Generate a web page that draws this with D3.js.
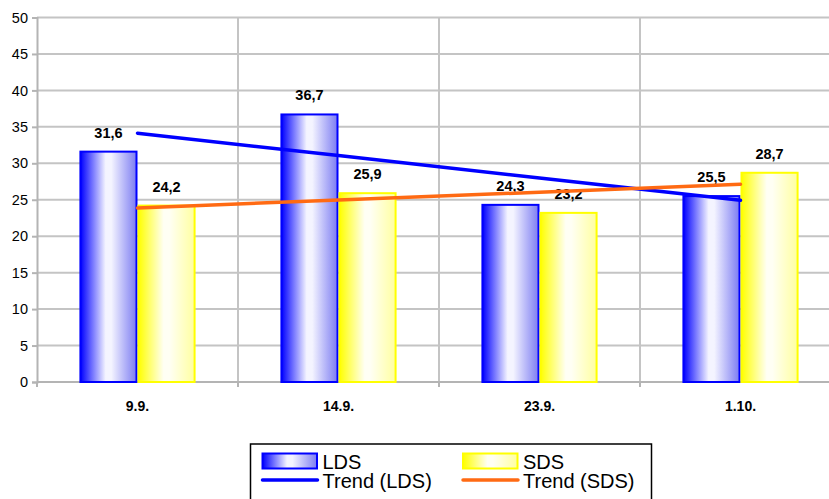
<!DOCTYPE html>
<html>
<head>
<meta charset="utf-8">
<script src="https://cdn.jsdelivr.net/npm/d3@7"></script>
<style>
  html, body { margin: 0; padding: 0; background: #fff; }
  svg { display: block; font-family: "Liberation Sans", Arial, sans-serif; }
</style>
</head>
<body>
<svg id="chart" width="829" height="499"></svg>
<script>
// Measurement dates and the two series
const categories = ["9.9.", "14.9.", "23.9.", "1.10."];
const ldsValues = [31.6, 36.7, 24.3, 25.5];
const sdsValues = [24.2, 25.9, 23.2, 28.7];
const yTicks = [0, 5, 10, 15, 20, 25, 30, 35, 40, 45, 50];
const seriesNames = ["LDS", "SDS"];
const trendNames = ["Trend (LDS)", "Trend (SDS)"];

const fmt = v => String(v).replace(".", ",");

const svg = d3.select("#chart");
const plot = { left: 37, right: 841, top: 17.5, bottom: 382 };

const x = d3.scaleBand().domain(categories).range([plot.left, plot.right]).paddingInner(0).paddingOuter(0);
const groupW = x.bandwidth() * 0.578;
const xs = d3.scaleBand().domain(seriesNames).range([0, groupW]);
const y = d3.scaleLinear().domain([0, 50]).range([plot.bottom, plot.top]);

// Gradients for the bars
const defs = svg.append("defs");
function grad(id, stops) {
  const g = defs.append("linearGradient").attr("id", id).attr("x1", "0%").attr("x2", "100%").attr("y1", "0%").attr("y2", "0%");
  stops.forEach(([o, c]) => g.append("stop").attr("offset", o).attr("stop-color", c));
}
grad("gLDS", [["0%", "#0000ff"], ["45%", "#f4f4ff"], ["55%", "#f4f4ff"], ["100%", "#7c7cf2"]]);
grad("gSDS", [["0%", "#ffff00"], ["45%", "#fffff4"], ["55%", "#fffff4"], ["100%", "#ffffa0"]]);

// Grid
svg.append("g").selectAll("line").data(yTicks).join("line")
  .attr("x1", plot.left).attr("x2", 829)
  .attr("y1", d => y(d)).attr("y2", d => y(d))
  .attr("stroke", "#c4c4c4").attr("stroke-width", 2);
svg.append("g").selectAll("line").data(categories.slice(1)).join("line")
  .attr("x1", d => x(d)).attr("x2", d => x(d))
  .attr("y1", plot.top).attr("y2", plot.bottom)
  .attr("stroke", "#c4c4c4").attr("stroke-width", 2);

// Y axis
const yAxis = svg.append("g").attr("transform", `translate(${plot.left},0)`)
  .call(d3.axisLeft(y).tickValues(yTicks).tickSize(5).tickPadding(4).tickFormat(d => d));
yAxis.select(".domain").attr("stroke", "#b4b4b4").attr("stroke-width", 2);
yAxis.selectAll(".tick line").attr("stroke", "#b4b4b4").attr("stroke-width", 2);
yAxis.selectAll(".tick text").attr("font-size", 14.5).attr("fill", "#000")
  .attr("font-family", "Liberation Sans, Arial, sans-serif");

// X axis
const xAxis = svg.append("g").attr("transform", `translate(0,${plot.bottom})`)
  .call(d3.axisBottom(x).tickSize(0).tickPadding(19));
xAxis.select(".domain").remove();
svg.append("line").attr("x1", plot.left).attr("x2", 829).attr("y1", plot.bottom).attr("y2", plot.bottom)
  .attr("stroke", "#b4b4b4").attr("stroke-width", 2);
svg.append("g").selectAll("line").data(categories).join("line")
  .attr("x1", d => x(d)).attr("x2", d => x(d)).attr("y1", plot.bottom).attr("y2", plot.bottom + 5)
  .attr("stroke", "#b4b4b4").attr("stroke-width", 2);
xAxis.selectAll(".tick text").attr("font-size", 14).attr("font-weight", "bold").attr("fill", "#000")
  .attr("font-family", "Liberation Sans, Arial, sans-serif");

// Bars
const rows = categories.map((c, i) => ({ c, LDS: ldsValues[i], SDS: sdsValues[i] }));
const groups = svg.append("g").selectAll("g").data(rows).join("g")
  .attr("transform", d => `translate(${x(d.c) + (x.bandwidth() - groupW) / 2},0)`);
const strokeCol = { LDS: "#0000ff", SDS: "#ffff00" };
groups.selectAll("rect").data(d => seriesNames.map(s => ({ s, v: d[s] }))).join("rect")
  .attr("x", d => xs(d.s) + 1).attr("width", xs.bandwidth() - 2)
  .attr("y", d => y(d.v)).attr("height", d => y(0) - y(d.v))
  .attr("fill", d => `url(#g${d.s})`)
  .attr("stroke", d => strokeCol[d.s]).attr("stroke-width", 2);

// Linear trend lines (least squares over category index)
function trend(vals) {
  const n = vals.length, xsI = d3.range(1, n + 1);
  const mx = d3.mean(xsI), my = d3.mean(vals);
  const b = d3.sum(xsI, (xi, i) => (xi - mx) * (vals[i] - my)) / d3.sum(xsI, xi => (xi - mx) ** 2);
  const a = my - b * mx;
  return xsI.map(xi => a + b * xi);
}
const cx = c => x(c) + x.bandwidth() / 2;
const line = d3.line().x((d, i) => cx(categories[i])).y(d => y(d));
const trends = [
  { vals: trend(ldsValues), color: "#0000ff" },
  { vals: trend(sdsValues), color: "#ff6a13" }
];
svg.append("g").selectAll("path").data(trends).join("path")
  .attr("d", d => line(d.vals)).attr("fill", "none")
  .attr("stroke", d => d.color).attr("stroke-width", 3.5).attr("stroke-linecap", "round");

// Value labels
groups.selectAll("text").data(d => seriesNames.map(s => ({ s, v: d[s] }))).join("text")
  .attr("x", d => xs(d.s) + xs.bandwidth() / 2)
  .attr("y", d => y(d.v) - 14)
  .attr("text-anchor", "middle")
  .attr("font-size", 14.5).attr("font-weight", "bold").attr("fill", "#000")
  .text(d => fmt(d.v));

// Legend
const lg = svg.append("g");
lg.append("rect").attr("x", 250.5).attr("y", 444).attr("width", 401).attr("height", 70)
  .attr("fill", "#fff").attr("stroke", "#000").attr("stroke-width", 1.5);
const legendCols = [262.5, 463];
seriesNames.forEach((s, i) => {
  const lx = legendCols[i];
  lg.append("rect").attr("x", lx).attr("y", 453.5).attr("width", 54.5).attr("height", 15)
    .attr("fill", `url(#g${s})`).attr("stroke", strokeCol[s]).attr("stroke-width", 2);
  lg.append("text").attr("x", lx + 60).attr("y", 469).attr("font-size", 20).attr("fill", "#000").text(s);
  lg.append("line").attr("x1", lx).attr("x2", lx + 55).attr("y1", 480).attr("y2", 480)
    .attr("stroke", trends[i].color).attr("stroke-width", 3.5).attr("stroke-linecap", "round");
  lg.append("text").attr("x", lx + 60).attr("y", 488).attr("font-size", 20).attr("fill", "#000").text(trendNames[i]);
});
</script>
</body>
</html>
